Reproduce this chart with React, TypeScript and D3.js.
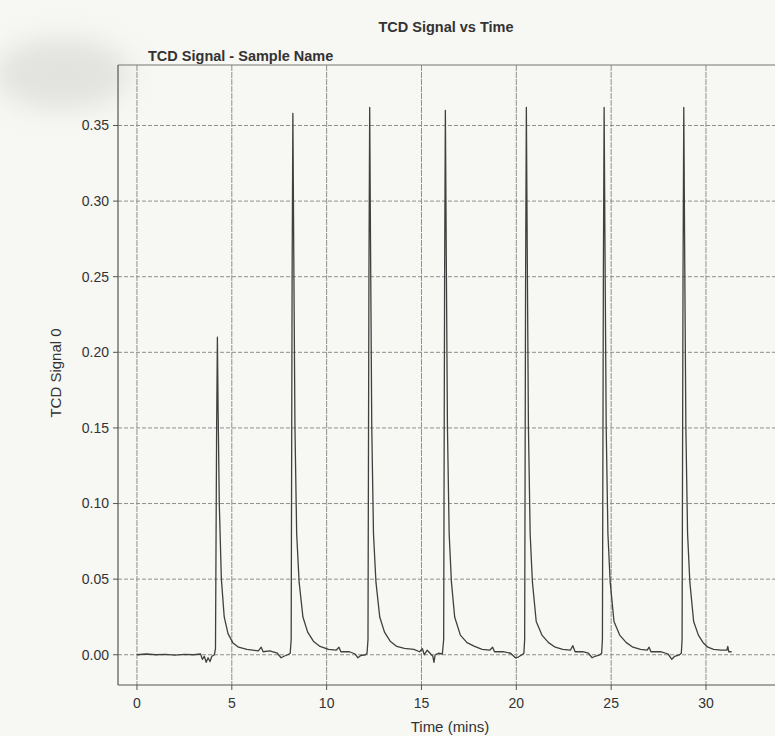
import React from "react";
import * as d3 from "d3";

const chartTitle = "TCD Signal vs Time";
const seriesName = "TCD Signal - Sample Name";
const xLabel = "Time (mins)";
const yLabel = "TCD Signal 0";

const xTicks = [0, 5, 10, 15, 20, 25, 30];
const yTicks = [0, 0.05, 0.1, 0.15, 0.2, 0.25, 0.3, 0.35];

// time (min)
const tcdTime = [
  0.0, 0.5, 1.0, 1.5, 2.0, 2.5, 3.0, 3.35, 3.45, 3.55, 3.65, 3.75, 3.85, 3.95, 4.08,
  4.14, 4.2, 4.24, 4.28, 4.34, 4.45, 4.6, 4.8, 5.05, 5.35, 5.8, 6.1, 6.4, 6.55, 6.65, 7.0, 7.4, 7.6, 7.75, 7.95, 8.08,
  8.13, 8.18, 8.22, 8.27, 8.33, 8.42, 8.55, 8.75, 9.0, 9.3, 9.65, 10.1, 10.5, 10.65, 10.75, 11.2, 11.5, 11.65, 11.8, 12.05, 12.13,
  12.18, 12.23, 12.27, 12.32, 12.38, 12.47, 12.6, 12.8, 13.05, 13.35, 13.7, 14.1, 14.6, 14.9, 15.05, 15.15, 15.3, 15.45, 15.6, 15.66, 15.72, 15.9, 16.1,
  16.17, 16.22, 16.26, 16.31, 16.37, 16.46, 16.58, 16.75, 17.05, 17.4, 17.8, 18.2, 18.6, 18.75, 18.85, 19.3, 19.7, 19.95, 20.1, 20.3, 20.4,
  20.44, 20.49, 20.53, 20.58, 20.64, 20.73, 20.85, 21.05, 21.35, 21.7, 22.05, 22.45, 22.85, 22.98, 23.1, 23.5, 23.8, 24.0, 24.15, 24.4, 24.5,
  24.54, 24.59, 24.63, 24.68, 24.74, 24.83, 24.95, 25.15, 25.45, 25.8, 26.15, 26.55, 26.9, 27.0, 27.1, 27.6, 28.0, 28.2, 28.35, 28.6, 28.7,
  28.74, 28.79, 28.83, 28.88, 28.94, 29.03, 29.15, 29.35, 29.6, 29.85, 30.1, 30.4, 30.8, 31.1, 31.15, 31.2, 31.35,
];

// TCD signal
const tcdSignal = [
  0.0, 0.0005, 0.0, 0.0003, -0.0003, 0.0002, 0.0, 0.0005, -0.003, -0.001, -0.005, -0.002, -0.0045, -0.001, 0.0,
  0.004, 0.15, 0.21, 0.16, 0.1, 0.05, 0.025, 0.014, 0.008, 0.005, 0.0035, 0.003, 0.0025, 0.005, 0.002, 0.0025, 0.001, -0.002, -0.001, 0.0, 0.001,
  0.01, 0.25, 0.358, 0.26, 0.15, 0.08, 0.048, 0.025, 0.015, 0.009, 0.0055, 0.0035, 0.003, 0.005, 0.002, 0.002, 0.0005, -0.002, -0.0005, 0.0, 0.001,
  0.01, 0.25, 0.362, 0.26, 0.15, 0.08, 0.048, 0.025, 0.015, 0.009, 0.0055, 0.0042, 0.0035, 0.002, 0.004, 0.0, 0.003, 0.001, -0.001, -0.005, 0.0, 0.001, 0.0005,
  0.01, 0.25, 0.36, 0.26, 0.15, 0.08, 0.048, 0.025, 0.013, 0.008, 0.0055, 0.0035, 0.003, 0.005, 0.002, 0.002, 0.001, -0.002, -0.0015, 0.0, 0.001,
  0.01, 0.25, 0.362, 0.26, 0.15, 0.08, 0.048, 0.022, 0.013, 0.008, 0.005, 0.0035, 0.003, 0.006, 0.002, 0.002, 0.001, -0.002, -0.001, 0.0, 0.001,
  0.01, 0.25, 0.362, 0.26, 0.15, 0.08, 0.048, 0.022, 0.013, 0.008, 0.005, 0.0035, 0.003, 0.005, 0.002, 0.002, 0.0005, -0.003, -0.001, 0.0, 0.001,
  0.01, 0.25, 0.362, 0.26, 0.15, 0.08, 0.048, 0.022, 0.013, 0.008, 0.005, 0.0035, 0.003, 0.003, 0.0055, 0.002, 0.002,
];

const W = 775;
const H = 736;
const left = 118;
const top = 65;
const bottom = 685;

export default function App() {
  const x = d3.scaleLinear().domain([-1, 34]).range([left, left + 35 * 18.967]);
  const y = d3.scaleLinear().domain([-0.02, 0.39]).range([bottom, top]);
  const pts: [number, number][] = tcdTime.map((t, i) => [t, tcdSignal[i]]);
  const line = d3
    .line<[number, number]>()
    .x((d) => x(d[0]))
    .y((d) => y(d[1]));
  const font = "'Liberation Sans', Arial, sans-serif";
  const ink = "#333";
  const grid = "#8f8f8f";
  return (
    <svg
      width={W}
      height={H}
      style={{ position: "absolute", left: 0, top: 0, background: "#f7f7f3" }}
      fontFamily={font}
    >
      <defs>
        <filter id="blur" x="-50%" y="-50%" width="200%" height="200%">
          <feGaussianBlur stdDeviation="14" />
        </filter>
        <clipPath id="plot">
          <rect x={left} y={top} width={W - left} height={bottom - top} />
        </clipPath>
      </defs>
      <rect x={0} y={0} width={W} height={H} fill="#f7f7f3" />
      <ellipse cx={62} cy={74} rx={68} ry={36} fill="#d4d4d2" opacity={0.6} filter="url(#blur)" />

      <text x={446} y={32} textAnchor="middle" fontSize={14.5} fontWeight={600} fill={ink}>
        {chartTitle}
      </text>
      <text x={148} y={61} fontSize={14.5} fontWeight={600} fill={ink}>
        {seriesName}
      </text>

      {/* grid */}
      <g clipPath="url(#plot)">
        {yTicks.map((v) => (
          <line
            key={"gy" + v}
            x1={left}
            x2={W}
            y1={y(v)}
            y2={y(v)}
            stroke={grid}
            strokeWidth={1}
            strokeDasharray="4,2"
          />
        ))}
        {xTicks.map((v) => (
          <line
            key={"gx" + v}
            x1={x(v)}
            x2={x(v)}
            y1={top}
            y2={bottom}
            stroke={grid}
            strokeWidth={1}
            strokeDasharray="6,1"
          />
        ))}
      </g>

      {/* frame */}
      <line x1={left} x2={W} y1={top} y2={top} stroke="#777" strokeWidth={1.2} />
      <line x1={left} x2={left} y1={top} y2={bottom} stroke="#555" strokeWidth={1.2} />
      <line x1={left} x2={W} y1={bottom} y2={bottom} stroke="#555" strokeWidth={1.2} />

      {/* y ticks */}
      {yTicks.map((v) => (
        <g key={"ty" + v}>
          <line x1={left - 5} x2={left} y1={y(v)} y2={y(v)} stroke="#555" />
          <text
            x={left - 9}
            y={y(v)}
            dy="0.35em"
            textAnchor="end"
            fontSize={14}
            fill={ink}
          >
            {d3.format(".2f")(v)}
          </text>
        </g>
      ))}
      {/* x ticks */}
      {xTicks.map((v) => (
        <g key={"tx" + v}>
          <line x1={x(v)} x2={x(v)} y1={bottom} y2={bottom + 5} stroke="#555" />
          <text x={x(v)} y={bottom + 23} textAnchor="middle" fontSize={14} fill={ink}>
            {v}
          </text>
        </g>
      ))}

      <text x={450} y={732} textAnchor="middle" fontSize={15} fill={ink}>
        {xLabel}
      </text>
      <text
        transform={`translate(61,${373}) rotate(-90)`}
        textAnchor="middle"
        fontSize={15}
        fill={ink}
      >
        {yLabel}
      </text>

      <path d={line(pts) || ""} fill="none" stroke="#404040" strokeWidth={1.3} strokeLinejoin="round" />
    </svg>
  );
}
